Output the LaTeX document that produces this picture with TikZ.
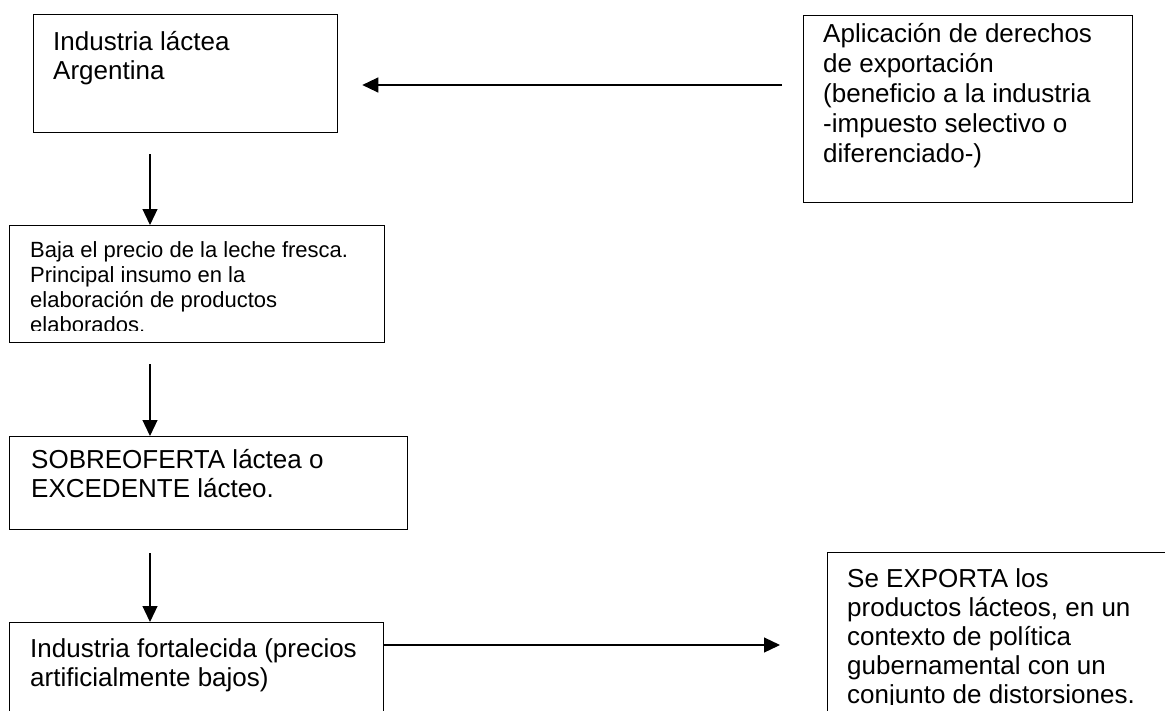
\documentclass[tikz,border=0pt]{standalone}
\usepackage{fontspec}
\setmainfont{Liberation Sans}
\usetikzlibrary{arrows.meta,calc}
\begin{document}
\begin{tikzpicture}[x=1pt,y=-1pt,
  box/.style={draw, line width=1.3pt, inner sep=0pt, anchor=north west},
  arr/.style={line width=1.2pt, -{Triangle[length=16pt,width=15pt]}},
  big/.style={inner sep=0pt, anchor=base west, align=left, font=\fontsize{26}{29}\selectfont},
  bigw/.style={inner sep=0pt, anchor=base west, align=left, font=\fontsize{26}{30}\selectfont},
  small/.style={inner sep=0pt, anchor=base west, align=left, font=\fontsize{22}{25}\selectfont}]
\useasboundingbox (0,0) rectangle (1165,710);
\clip (0,0) rectangle (1165,710);
\fill[white] (0,0) rectangle (1165,710);
% boxes
\node[box, minimum width=304pt, minimum height=118pt] (b1) at (33,14) {};
\node[box, minimum width=375pt, minimum height=117pt] (b2) at (9,225) {};
\node[box, minimum width=398pt, minimum height=93pt] (b3) at (9,436) {};
\node[box, minimum width=374pt, minimum height=150pt] (b4) at (9,622) {};
\node[box, minimum width=329pt, minimum height=187pt] (apl) at (803,15) {};
\node[box, minimum width=400pt, minimum height=200pt] (exp) at (827,552) {};
% texts (anchored at the baseline of the last line)
\node[big] (t1) at (53,79) {Industria láctea\\Argentina};
\begin{scope}
  \clip (9,225) rectangle (384,330);
  \node[small] (t2) at (30,332) {Baja el precio de la leche fresca.\\Principal insumo en la\\elaboración de productos\\elaborados.};
\end{scope}
\node[big] (t3) at (31,497) {SOBREOFERTA láctea o\\EXCEDENTE lácteo.};
\node[big] (t4) at (30,686) {Industria fortalecida (precios\\artificialmente bajos)};
\node[bigw] (t5) at (823,162) {Aplicación de derechos\\de exportación\\(beneficio a la industria\\-impuesto selectivo o\\diferenciado-)};
\begin{scope}
  \clip (827,552) rectangle (1165,704);
  \node[big] (t6) at (847,703) {Se EXPORTA los\\productos lácteos, en un\\contexto de política\\gubernamental con un\\conjunto de distorsiones.};
\end{scope}
% connectors
\coordinate (a1s) at ($(b1.south west)+(117,21)$);
\draw[arr] (a1s) -- (a1s |- b2.north);
\coordinate (a2s) at ($(b2.south west)+(141,21)$);
\draw[arr] (a2s) -- (a2s |- b3.north);
\coordinate (a3s) at ($(b3.south west)+(141,23)$);
\draw[arr] (a3s) -- (a3s |- b4.north);
\coordinate (a4s) at ($(apl.north west)+(-21,70)$);
\coordinate (a4e) at ($(b1.north east)+(24,71)$);
\draw[arr] (a4s) -- (a4e);
\coordinate (a5s) at ($(b4.north east)+(0,23)$);
\coordinate (a5e) at ($(exp.north west)+(-47,93)$);
\draw[arr] (a5s) -- (a5e);
\end{tikzpicture}
\end{document}
